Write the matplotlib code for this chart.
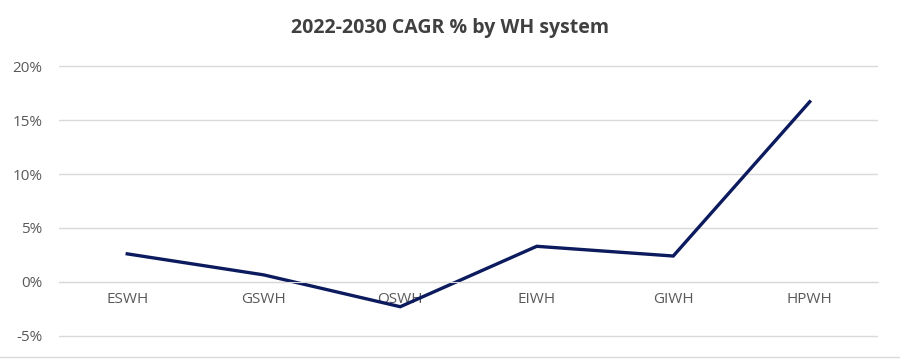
import matplotlib.pyplot as plt
from matplotlib.ticker import FuncFormatter

plt.rcParams['font.family'] = ['Open Sans', 'DejaVu Sans']

systems = ['ESWH', 'GSWH', 'OSWH', 'EIWH', 'GIWH', 'HPWH']
cagr = [2.6, 0.65, -2.3, 3.3, 2.4, 16.7]
yticks = [-5, 0, 5, 10, 15, 20]

fig = plt.figure(figsize=(9, 3.62), dpi=100)
ax = fig.add_axes([59 / 900, 1 - 338 / 362, 819 / 900, 274 / 362])

x = list(range(len(systems)))
ax.plot(x, cagr, color='#0c1a5e', linewidth=2.4, solid_joinstyle='miter')

ax.set_xlim(-0.5, len(systems) - 0.5)
ax.set_ylim(-5.2, 20.2)
ax.set_yticks(yticks)
ax.yaxis.set_major_formatter(FuncFormatter(lambda v, p: f'{v:.0f}%'))
ax.set_xticks(x)
ax.set_xticklabels(systems)

ax.grid(axis='y', color='#d9d9d9', linewidth=1)
ax.set_axisbelow(True)
for s in ['top', 'right', 'left']:
    ax.spines[s].set_visible(False)
ax.spines['bottom'].set_position(('data', 0))
ax.spines['bottom'].set_color('#d9d9d9')
ax.tick_params(axis='both', length=0, colors='#595959', labelsize=11)
ax.tick_params(axis='x', pad=7)
ax.tick_params(axis='y', pad=12)

fig.text(0.5, 1 - 28 / 362, '2022-2030 CAGR % by WH system', ha='center', va='center',
         fontsize=14, fontweight='bold', color='#404040')
fig.add_artist(plt.Line2D([0, 1], [1 - 357 / 362] * 2, color='#d9d9d9', linewidth=1))

fig.savefig('out.png', dpi=100)
